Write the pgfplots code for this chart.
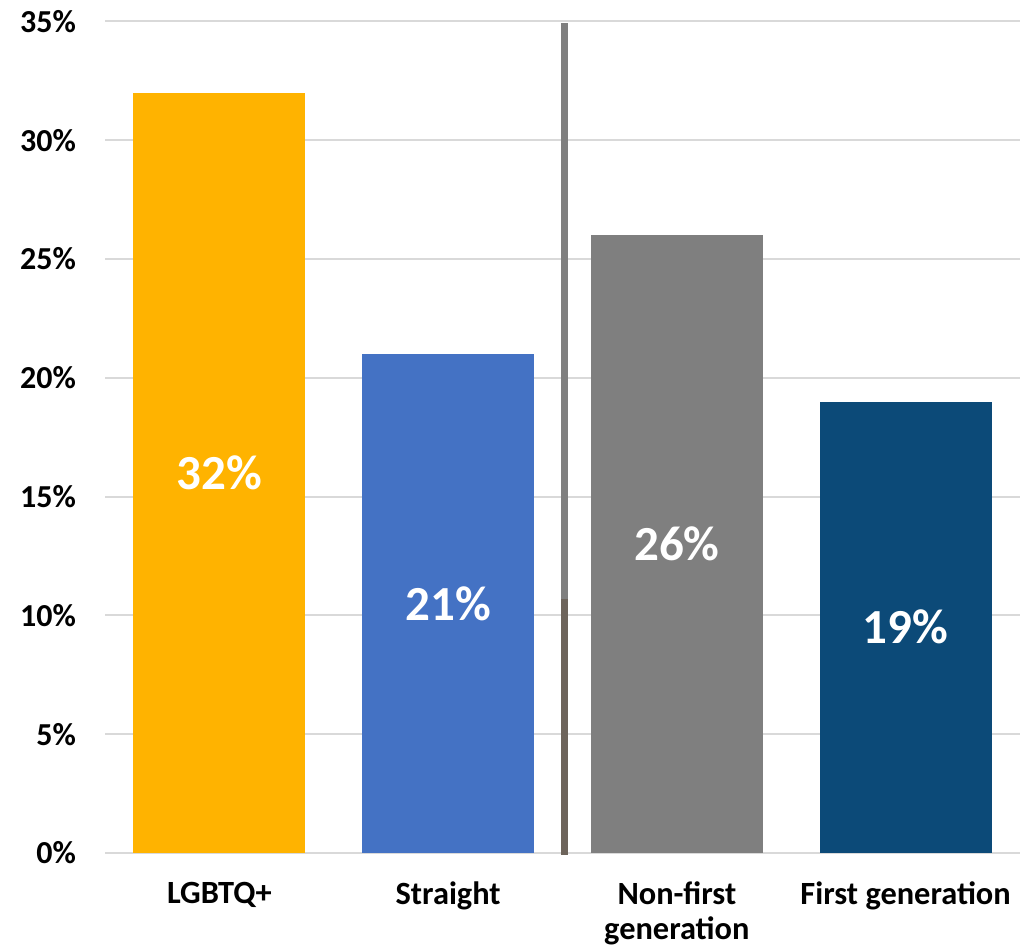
\documentclass[border=0pt]{standalone}
\usepackage{pgfplots}
\pgfplotsset{compat=1.18}
\usepackage{fontspec}
\setmainfont{Carlito}
\definecolor{cAmber}{HTML}{FFB300}
\definecolor{cBlue}{HTML}{4472C4}
\definecolor{cGray}{HTML}{7F7F7F}
\definecolor{cNavy}{HTML}{0C4A78}
\definecolor{cGrid}{HTML}{D9D9D9}
\definecolor{cDivLow}{HTML}{6D645B}
\begin{document}
\begin{tikzpicture}
\begin{axis}[
  scale only axis,
  width=457.5pt, height=415.75pt,
  xmin=-0.5, xmax=3.5,
  ymin=0, ymax=35,
  xtick={0,1,2,3},
  xticklabels={LGBTQ+, Straight, {Non-first\\generation}, First generation},
  ytick={0,5,10,15,20,25,30,35},
  yticklabel={\pgfmathprintnumber{\tick}\%},
  /pgf/number format/assume math mode=true,
  ymajorgrids,
  grid style={cGrid, line width=1pt},
  axis line style={draw=none},
  major tick length=0pt,
  tick style={draw=none},
  yticklabel style={font=\fontsize{16}{19}\selectfont\bfseries, xshift=-11pt},
  xticklabel style={font=\fontsize{16.2}{17.5}\selectfont\bfseries, align=center, yshift=-11pt},
  clip=false,
]
\addplot[ybar, bar width=86pt, bar shift=0pt, fill=cAmber, draw=none] coordinates {(0,32)};
\addplot[ybar, bar width=86pt, bar shift=0pt, fill=cBlue, draw=none] coordinates {(1,21)};
\addplot[ybar, bar width=86pt, bar shift=0pt, fill=cGray, draw=none] coordinates {(2,26)};
\addplot[ybar, bar width=86pt, bar shift=0pt, fill=cNavy, draw=none] coordinates {(3,19)};
\addplot[cGray, line width=3.5pt] coordinates {(1.51,-0.08) (1.51,34.93)};
\addplot[cDivLow, line width=3.5pt] coordinates {(1.51,-0.08) (1.51,10.7)};
\addplot[draw=none, mark=none, point meta=rawy, y filter/.expression={y/2},
  nodes near coords={\pgfmathprintnumber[assume math mode=true]{\pgfplotspointmeta}\%},
  every node near coord/.append style={anchor=center, white, font=\fontsize{24.5}{29}\selectfont\bfseries}]
  coordinates {(0,32) (1,21) (2,26) (3,19)};
\end{axis}
\pgfresetboundingbox
\path (current axis.south west) ++(-52.5pt,-47.5pt) rectangle ++(514pt,474pt);
\end{tikzpicture}
\end{document}
